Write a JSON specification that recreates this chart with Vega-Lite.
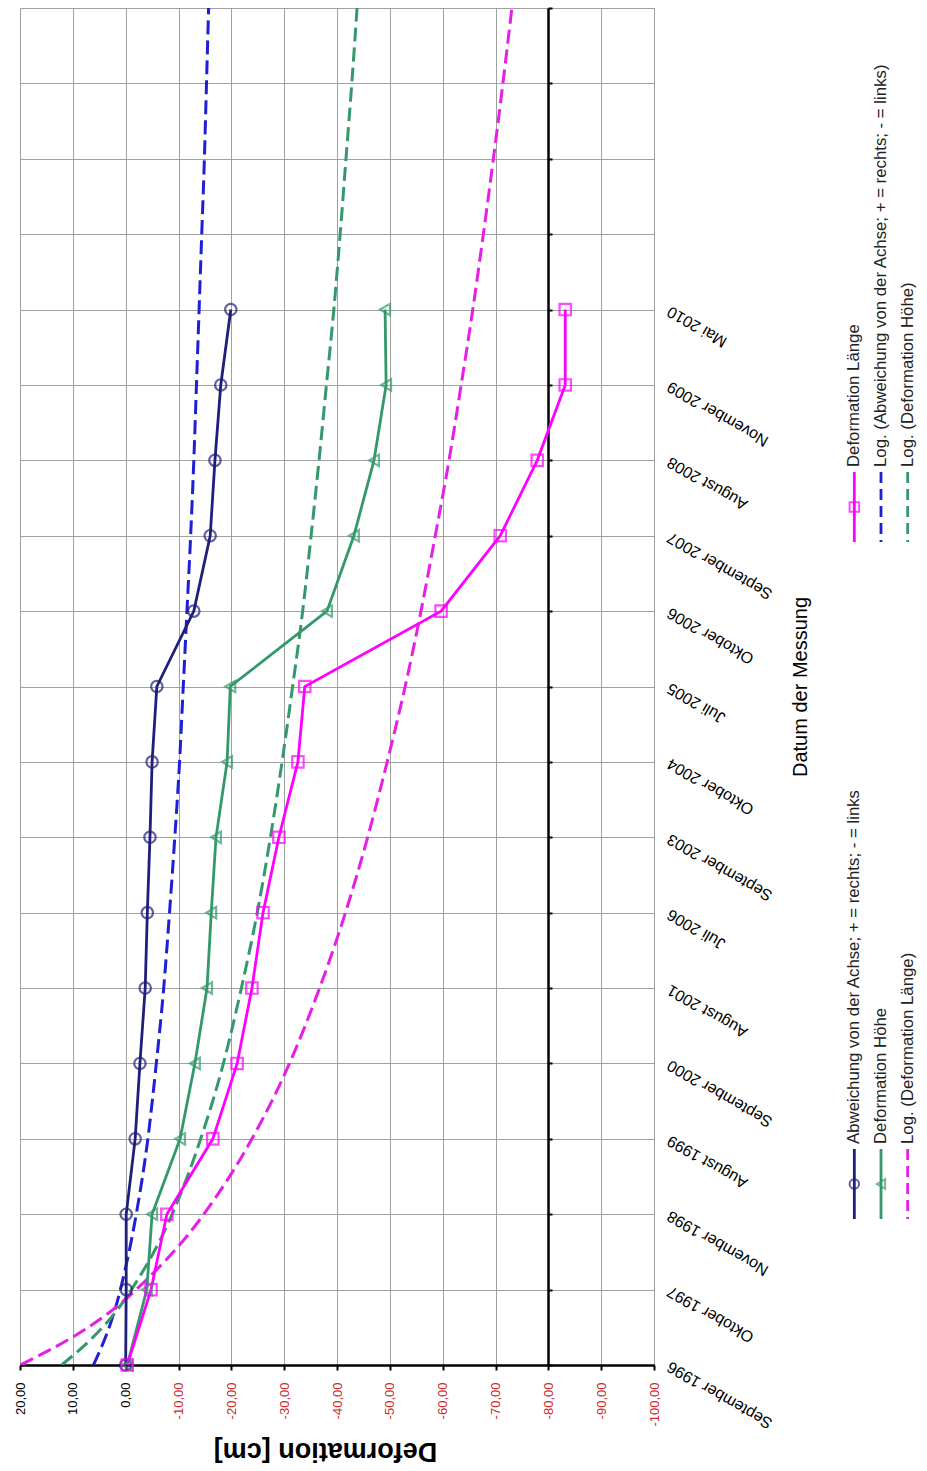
{
  "$schema": "https://vega.github.io/schema/vega-lite/v6.json",
  "background": "white",
  "padding": {"left": 13, "top": 6, "right": 5, "bottom": 2},
  "config": {"font": "Liberation Sans", "view": {"stroke": "#a0a0a0", "strokeWidth": 1}},
  "datasets": {
    "obs": [
      {"i": 0, "d": "September 1996", "s": "Abweichung von der Achse; + = rechts; - = links", "v": 0},
      {"i": 1, "d": "Oktober 1997", "s": "Abweichung von der Achse; + = rechts; - = links", "v": -0.1},
      {"i": 2, "d": "November 1998", "s": "Abweichung von der Achse; + = rechts; - = links", "v": -0.1},
      {"i": 3, "d": "August 1999", "s": "Abweichung von der Achse; + = rechts; - = links", "v": -1.8},
      {"i": 4, "d": "September 2000", "s": "Abweichung von der Achse; + = rechts; - = links", "v": -2.7},
      {"i": 5, "d": "August 2001", "s": "Abweichung von der Achse; + = rechts; - = links", "v": -3.7},
      {"i": 6, "d": "Juli 2006", "s": "Abweichung von der Achse; + = rechts; - = links", "v": -4.1},
      {"i": 7, "d": "September 2003", "s": "Abweichung von der Achse; + = rechts; - = links", "v": -4.6},
      {"i": 8, "d": "Oktober 2004", "s": "Abweichung von der Achse; + = rechts; - = links", "v": -5.0},
      {"i": 9, "d": "Juli 2005", "s": "Abweichung von der Achse; + = rechts; - = links", "v": -5.9},
      {"i": 10, "d": "Oktober 2006", "s": "Abweichung von der Achse; + = rechts; - = links", "v": -12.9},
      {"i": 11, "d": "September 2007", "s": "Abweichung von der Achse; + = rechts; - = links", "v": -16.0},
      {"i": 12, "d": "August 2008", "s": "Abweichung von der Achse; + = rechts; - = links", "v": -16.9},
      {"i": 13, "d": "November 2009", "s": "Abweichung von der Achse; + = rechts; - = links", "v": -18.0},
      {"i": 14, "d": "Mai 2010", "s": "Abweichung von der Achse; + = rechts; - = links", "v": -19.9},
      {"i": 0, "d": "September 1996", "s": "Deformation Höhe", "v": -0.3},
      {"i": 1, "d": "Oktober 1997", "s": "Deformation Höhe", "v": -4.0},
      {"i": 2, "d": "November 1998", "s": "Deformation Höhe", "v": -5.0},
      {"i": 3, "d": "August 1999", "s": "Deformation Höhe", "v": -10.3},
      {"i": 4, "d": "September 2000", "s": "Deformation Höhe", "v": -13.1},
      {"i": 5, "d": "August 2001", "s": "Deformation Höhe", "v": -15.4},
      {"i": 6, "d": "Juli 2006", "s": "Deformation Höhe", "v": -16.2},
      {"i": 7, "d": "September 2003", "s": "Deformation Höhe", "v": -17.1},
      {"i": 8, "d": "Oktober 2004", "s": "Deformation Höhe", "v": -19.2},
      {"i": 9, "d": "Juli 2005", "s": "Deformation Höhe", "v": -19.8},
      {"i": 10, "d": "Oktober 2006", "s": "Deformation Höhe", "v": -38.1},
      {"i": 11, "d": "September 2007", "s": "Deformation Höhe", "v": -43.2},
      {"i": 12, "d": "August 2008", "s": "Deformation Höhe", "v": -47.0},
      {"i": 13, "d": "November 2009", "s": "Deformation Höhe", "v": -49.3},
      {"i": 14, "d": "Mai 2010", "s": "Deformation Höhe", "v": -49.1},
      {"i": 0, "d": "September 1996", "s": "Deformation Länge", "v": -0.3},
      {"i": 1, "d": "Oktober 1997", "s": "Deformation Länge", "v": -4.8},
      {"i": 2, "d": "November 1998", "s": "Deformation Länge", "v": -7.8},
      {"i": 3, "d": "August 1999", "s": "Deformation Länge", "v": -16.5},
      {"i": 4, "d": "September 2000", "s": "Deformation Länge", "v": -21.1},
      {"i": 5, "d": "August 2001", "s": "Deformation Länge", "v": -23.9},
      {"i": 6, "d": "Juli 2006", "s": "Deformation Länge", "v": -26.0},
      {"i": 7, "d": "September 2003", "s": "Deformation Länge", "v": -29.0},
      {"i": 8, "d": "Oktober 2004", "s": "Deformation Länge", "v": -32.6},
      {"i": 9, "d": "Juli 2005", "s": "Deformation Länge", "v": -33.9},
      {"i": 10, "d": "Oktober 2006", "s": "Deformation Länge", "v": -59.7},
      {"i": 11, "d": "September 2007", "s": "Deformation Länge", "v": -70.9},
      {"i": 12, "d": "August 2008", "s": "Deformation Länge", "v": -77.9},
      {"i": 13, "d": "November 2009", "s": "Deformation Länge", "v": -83.2},
      {"i": 14, "d": "Mai 2010", "s": "Deformation Länge", "v": -83.2}
    ],
    "trend": [
      {"i": 0, "s": "Log. (Abweichung von der Achse; + = rechts; - = links)", "v": 6.1},
      {"i": 1, "s": "Log. (Abweichung von der Achse; + = rechts; - = links)", "v": 1.0},
      {"i": 2, "s": "Log. (Abweichung von der Achse; + = rechts; - = links)", "v": -2.0},
      {"i": 3, "s": "Log. (Abweichung von der Achse; + = rechts; - = links)", "v": -4.2},
      {"i": 4, "s": "Log. (Abweichung von der Achse; + = rechts; - = links)", "v": -5.8},
      {"i": 5, "s": "Log. (Abweichung von der Achse; + = rechts; - = links)", "v": -7.2},
      {"i": 6, "s": "Log. (Abweichung von der Achse; + = rechts; - = links)", "v": -8.3},
      {"i": 7, "s": "Log. (Abweichung von der Achse; + = rechts; - = links)", "v": -9.3},
      {"i": 8, "s": "Log. (Abweichung von der Achse; + = rechts; - = links)", "v": -10.2},
      {"i": 9, "s": "Log. (Abweichung von der Achse; + = rechts; - = links)", "v": -10.9},
      {"i": 10, "s": "Log. (Abweichung von der Achse; + = rechts; - = links)", "v": -11.6},
      {"i": 11, "s": "Log. (Abweichung von der Achse; + = rechts; - = links)", "v": -12.3},
      {"i": 12, "s": "Log. (Abweichung von der Achse; + = rechts; - = links)", "v": -12.9},
      {"i": 13, "s": "Log. (Abweichung von der Achse; + = rechts; - = links)", "v": -13.4},
      {"i": 14, "s": "Log. (Abweichung von der Achse; + = rechts; - = links)", "v": -13.9},
      {"i": 15, "s": "Log. (Abweichung von der Achse; + = rechts; - = links)", "v": -14.4},
      {"i": 16, "s": "Log. (Abweichung von der Achse; + = rechts; - = links)", "v": -14.9},
      {"i": 17, "s": "Log. (Abweichung von der Achse; + = rechts; - = links)", "v": -15.3},
      {"i": 18, "s": "Log. (Abweichung von der Achse; + = rechts; - = links)", "v": -15.7},
      {"i": 0, "s": "Log. (Deformation Höhe)", "v": 12.1},
      {"i": 1, "s": "Log. (Deformation Höhe)", "v": -1.1},
      {"i": 2, "s": "Log. (Deformation Höhe)", "v": -8.8},
      {"i": 3, "s": "Log. (Deformation Höhe)", "v": -14.2},
      {"i": 4, "s": "Log. (Deformation Höhe)", "v": -18.5},
      {"i": 5, "s": "Log. (Deformation Höhe)", "v": -21.9},
      {"i": 6, "s": "Log. (Deformation Höhe)", "v": -24.9},
      {"i": 7, "s": "Log. (Deformation Höhe)", "v": -27.4},
      {"i": 8, "s": "Log. (Deformation Höhe)", "v": -29.6},
      {"i": 9, "s": "Log. (Deformation Höhe)", "v": -31.6},
      {"i": 10, "s": "Log. (Deformation Höhe)", "v": -33.5},
      {"i": 11, "s": "Log. (Deformation Höhe)", "v": -35.1},
      {"i": 12, "s": "Log. (Deformation Höhe)", "v": -36.6},
      {"i": 13, "s": "Log. (Deformation Höhe)", "v": -38.0},
      {"i": 14, "s": "Log. (Deformation Höhe)", "v": -39.4},
      {"i": 15, "s": "Log. (Deformation Höhe)", "v": -40.6},
      {"i": 16, "s": "Log. (Deformation Höhe)", "v": -41.7},
      {"i": 17, "s": "Log. (Deformation Höhe)", "v": -42.8},
      {"i": 18, "s": "Log. (Deformation Höhe)", "v": -43.8},
      {"i": 0, "s": "Log. (Deformation Länge)", "v": 19.9},
      {"i": 1, "s": "Log. (Deformation Länge)", "v": -2.0},
      {"i": 2, "s": "Log. (Deformation Länge)", "v": -14.8},
      {"i": 3, "s": "Log. (Deformation Länge)", "v": -23.9},
      {"i": 4, "s": "Log. (Deformation Länge)", "v": -31.0},
      {"i": 5, "s": "Log. (Deformation Länge)", "v": -36.7},
      {"i": 6, "s": "Log. (Deformation Länge)", "v": -41.6},
      {"i": 7, "s": "Log. (Deformation Länge)", "v": -45.8},
      {"i": 8, "s": "Log. (Deformation Länge)", "v": -49.5},
      {"i": 9, "s": "Log. (Deformation Länge)", "v": -52.9},
      {"i": 10, "s": "Log. (Deformation Länge)", "v": -55.9},
      {"i": 11, "s": "Log. (Deformation Länge)", "v": -58.6},
      {"i": 12, "s": "Log. (Deformation Länge)", "v": -61.2},
      {"i": 13, "s": "Log. (Deformation Länge)", "v": -63.5},
      {"i": 14, "s": "Log. (Deformation Länge)", "v": -65.7},
      {"i": 15, "s": "Log. (Deformation Länge)", "v": -67.7},
      {"i": 16, "s": "Log. (Deformation Länge)", "v": -69.6},
      {"i": 17, "s": "Log. (Deformation Länge)", "v": -71.4},
      {"i": 18, "s": "Log. (Deformation Länge)", "v": -73.1}
    ],
    "leg": [
      {"s": "Abweichung von der Achse; + = rechts; - = links", "grp": "A", "col": 1},
      {"s": "Deformation Höhe", "grp": "A", "col": 2},
      {"s": "Log. (Deformation Länge)", "grp": "A", "col": 3},
      {"s": "Deformation Länge", "grp": "B", "col": 1},
      {"s": "Log. (Abweichung von der Achse; + = rechts; - = links)", "grp": "B", "col": 2},
      {"s": "Log. (Deformation Höhe)", "grp": "B", "col": 3}
    ]
  },
  "spacing": 30,
  "hconcat": [
    {
      "width": 634,
      "height": 1357,
      "layer": [
        {
          "data": {"name": "trend"},
          "mark": {"type": "line", "strokeWidth": 3, "strokeDash": [14, 6], "interpolate": "monotone", "clip": true},
          "encoding": {
            "x": {"field": "v", "type": "quantitative"},
            "y": {
              "field": "i", "type": "quantitative",
              "axis": {
                "orient": "right", "values": [0,1,2,3,4,5,6,7,8,9,10,11,12,13,14],
                "labelExpr": "['September 1996','Oktober 1997','November 1998','August 1999','September 2000','August 2001','Juli 2006','September 2003','Oktober 2004','Juli 2005','Oktober 2006','September 2007','August 2008','November 2009','Mai 2010'][datum.value]",
                "labelAngle": 210, "labelAlign": "right", "labelBaseline": "middle", "labelFontSize": 16, "labelColor": "black",
                "labelPadding": 14, "labelOverlap": false, "labelBound": false, "labelFlush": false,
                "ticks": false, "domain": false, "grid": false,
                "title": "Datum der Messung", "titleAngle": 270, "titleFontSize": 20, "titleFontWeight": "normal", "titleColor": "black", "titlePadding": 36
              }
            },
            "order": {"field": "i", "type": "quantitative"},
            "color": {"field": "s", "type": "nominal", "legend": null,
              "scale": {"domain": ["Abweichung von der Achse; + = rechts; - = links", "Deformation Höhe", "Deformation Länge", "Log. (Abweichung von der Achse; + = rechts; - = links)", "Log. (Deformation Höhe)", "Log. (Deformation Länge)"],
                        "range": ["#1f1f7a", "#33996b", "#ff00ff", "#1f1fd6", "#33996b", "#e61ee6"]}},
            "detail": {"field": "s"}
          }
        },
        {
          "data": {"name": "obs"},
          "encoding": {
            "x": {
              "field": "v", "type": "quantitative",
              "scale": {"domain": [-100, 20], "reverse": true, "nice": false, "zero": false},
              "axis": {
                "orient": "bottom",
                "values": [20,15,10,5,0,-5,-10,-15,-20,-25,-30,-35,-40,-45,-50,-55,-60,-65,-70,-75,-80,-85,-90,-95,-100],
                "labelExpr": "datum.value % 10 == 0 ? replace(replace(format(datum.value, '.2f'), '.', ','), '−', '-') : ''",
                "labelAngle": -90, "labelFontSize": 13, "labelPadding": 12, "labelOverlap": false, "labelFlush": false, "labelBound": false,
                "labelColor": {"condition": {"test": "datum.value < 0", "value": "#cc2a2a"}, "value": "black"},
                "domainColor": "black", "domainWidth": 2.5, "tickColor": "black", "tickWidth": 2, "tickSize": 5,
                "grid": true, "gridColor": "#a0a0a0", "gridWidth": 1,
                "title": "Deformation [cm]", "titleAngle": 180, "titleBaseline": "bottom", "titleFontSize": 27, "titleFontWeight": "bold", "titleColor": "black", "titlePadding": 10, "titleX": 305
              }
            },
            "y": {
              "field": "i", "type": "quantitative",
              "scale": {"domain": [0, 18], "nice": false, "zero": false},
              "axis": {
                "orient": "right", "offset": -106, "values": [0,1,2,3,4,5,6,7,8,9,10,11,12,13,14,15,16,17,18],
                "labels": false, "title": null,
                "domainColor": "black", "domainWidth": 2.5, "tickColor": "black", "tickWidth": 2, "tickSize": 4,
                "grid": true, "gridColor": "#a0a0a0", "gridWidth": 1
              }
            },
            "color": {"field": "s", "type": "nominal", "legend": null,
              "scale": {"domain": ["Abweichung von der Achse; + = rechts; - = links", "Deformation Höhe", "Deformation Länge", "Log. (Abweichung von der Achse; + = rechts; - = links)", "Log. (Deformation Höhe)", "Log. (Deformation Länge)"],
                        "range": ["#1f1f7a", "#33996b", "#ff00ff", "#1f1fd6", "#33996b", "#e61ee6"]}}
          },
          "layer": [
            {"mark": {"type": "line", "strokeWidth": 2.8}, "encoding": {"detail": {"field": "s"}, "order": {"field": "i", "type": "quantitative"}}},
            {"mark": {"type": "point", "filled": false, "size": 130, "strokeWidth": 2.2},
             "encoding": {"shape": {"field": "s", "type": "nominal", "legend": null,
               "scale": {"domain": ["Abweichung von der Achse; + = rechts; - = links", "Deformation Höhe", "Deformation Länge"], "range": ["circle", "triangle-left", "square"]}}}}
          ]
        }
      ],
      "resolve": {"axis": {"y": "independent"}}
    },
    {
      "width": 80,
      "height": 1357,
      "view": {"stroke": null},
      "data": {"name": "leg"},
      "encoding": {
        "x": {"field": "col", "type": "ordinal", "axis": null, "scale": {"type": "point", "padding": 0.5}},
        "y": {"field": "grp", "type": "nominal", "axis": null, "scale": {"type": "point", "domain": ["A", "B"], "range": [1141, 464], "padding": 0}},
        "color": {"field": "s", "type": "nominal", "legend": null,
          "scale": {"domain": ["Abweichung von der Achse; + = rechts; - = links", "Deformation Höhe", "Deformation Länge", "Log. (Abweichung von der Achse; + = rechts; - = links)", "Log. (Deformation Höhe)", "Log. (Deformation Länge)"],
                    "range": ["#1f1f7a", "#33996b", "#ff00ff", "#1f1fd6", "#33996b", "#e61ee6"]}}
      },
      "layer": [
        {"mark": {"type": "rule", "y2Offset": 70, "strokeWidth": 2.8},
         "encoding": {"y2": {"field": "grp"},
           "strokeDash": {"field": "s", "type": "nominal", "legend": null,
             "scale": {"domain": ["Abweichung von der Achse; + = rechts; - = links", "Deformation Höhe", "Deformation Länge", "Log. (Abweichung von der Achse; + = rechts; - = links)", "Log. (Deformation Höhe)", "Log. (Deformation Länge)"],
                       "range": [[1, 0], [1, 0], [1, 0], [11, 6], [11, 6], [11, 6]]}}}},
        {"transform": [{"filter": {"field": "s", "oneOf": ["Abweichung von der Achse; + = rechts; - = links", "Deformation Höhe", "Deformation Länge"]}}],
         "mark": {"type": "point", "yOffset": 35, "filled": false, "size": 90, "strokeWidth": 2},
         "encoding": {"shape": {"field": "s", "type": "nominal", "legend": null,
           "scale": {"domain": ["Abweichung von der Achse; + = rechts; - = links", "Deformation Höhe", "Deformation Länge"], "range": ["circle", "triangle-left", "square"]}}}},
        {"mark": {"type": "text", "angle": 270, "align": "left", "baseline": "middle", "yOffset": -5, "fontSize": 16.8},
         "encoding": {"text": {"field": "s"}, "color": {"value": "#222222"}}}
      ]
    }
  ]
}
